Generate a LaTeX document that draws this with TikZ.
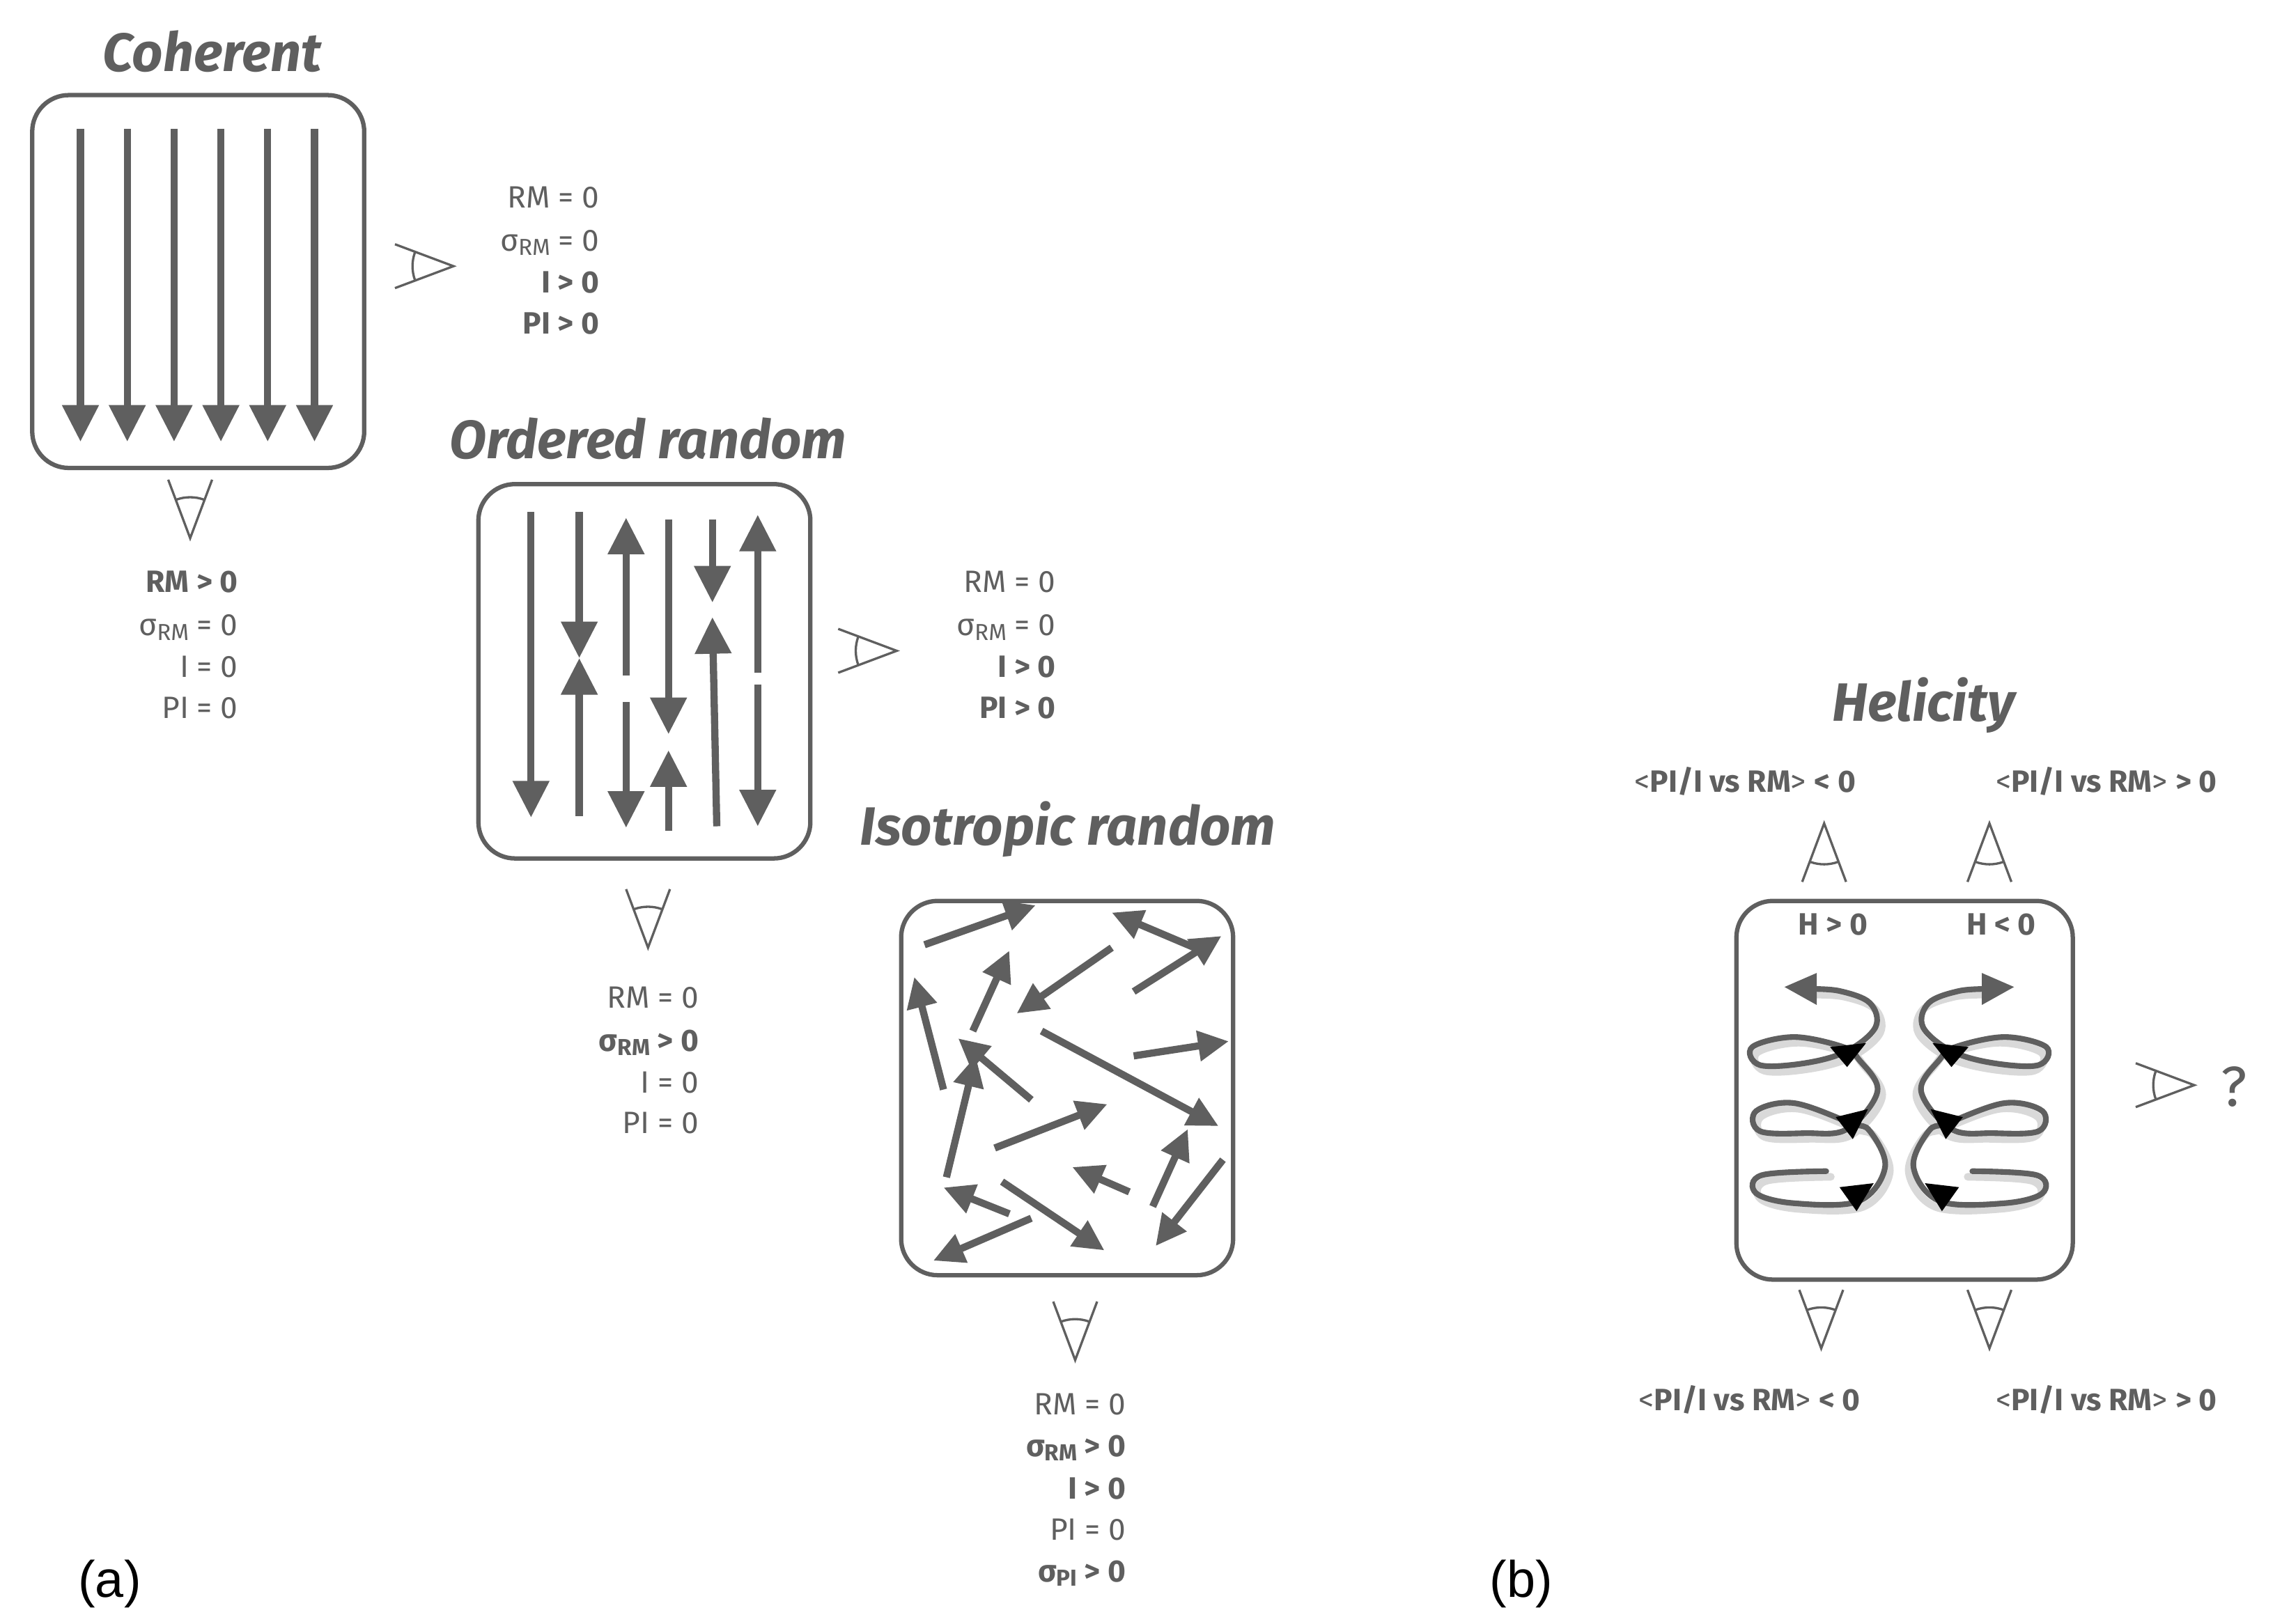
\documentclass[tikz,border=0pt]{standalone}
\usepackage{fontspec}
\setmainfont{Fira Sans}
\newfontfamily\arialf{Liberation Sans}
\usetikzlibrary{arrows.meta}
\definecolor{dg}{HTML}{5F5F5F}
\newcommand{\sig}[1]{σ{\fontsize{9}{10}\selectfont\raisebox{-0.35ex}{#1}}}
\begin{document}
\begin{tikzpicture}[x=0.02cm,y=-0.02cm,
  box/.style={draw=dg,line width=1.7pt,rounded corners=0.5cm},
  fa/.style={draw=dg,line width=2.8pt,-{Triangle[length=0.5cm,width=0.48cm]}},
  ia/.style={draw=dg,line width=2.8pt,-{Triangle[length=0.42cm,width=0.4cm]}},
  txt/.style={text=dg,font=\fontsize{12}{14}\selectfont,anchor=east,inner sep=0pt},
  btxt/.style={txt,font=\fontsize{12}{14}\selectfont\bfseries},
  ttl/.style={text=dg,font=\fontsize{21}{24}\selectfont\bfseries\itshape,inner sep=0pt},
  hl/.style={text=dg,font=\fontsize{12}{14}\selectfont,inner sep=0pt},
  eye/.pic={\draw[dg,line width=0.9pt] (-40,15)--(0,0)--(-40,-15);
            \draw[dg,line width=0.9pt] (160:28) arc[start angle=160,end angle=200,radius=28];},
  hel/.style={draw=dg,line width=2.2pt,line cap=round}]
\useasboundingbox (0,0) rectangle (1560,1110);
% ---------- Coherent
\node[ttl] (t1) at (145,35) {Coherent};
\node[box,minimum width=4.54cm,minimum height=5.1cm] (b1) at (135.5,192.5) {};
\foreach \x [count=\i] in {55,87,119,151,183,215}
  \draw[fa] (\x,88) -- (\x,302);
\pic at (310,182) {eye};
\node[txt] (c1) at (410,135) {RM = 0};
\node[txt] (c2) at (410,166) {\sig{RM} = 0};
\node[btxt] (c3) at (410,193) {I > 0};
\node[btxt] (c4) at (410,221) {PI > 0};
\pic[rotate=-90] at (130,368) {eye};
\node[btxt] (d1) at (163,398) {RM > 0};
\node[txt] (d2) at (163,429) {\sig{RM} = 0};
\node[txt] (d3) at (163,456) {I = 0};
\node[txt] (d4) at (163,484) {PI = 0};
% ---------- Ordered random
\node[ttl] (t2) at (443,300) {Ordered random};
\node[box,minimum width=4.54cm,minimum height=5.12cm] (b2) at (440.5,459) {};
\draw[fa] (363,350) -- (363,559);
\draw[fa] (396,350) -- (396,450);
\draw[fa] (396,558) -- (396,450);
\draw[fa] (428,462) -- (428,354);
\draw[fa] (428,480) -- (428,566);
\draw[fa] (457,355) -- (457,502);
\draw[fa] (457,568) -- (457,513);
\draw[fa] (487,355) -- (487,412);
\draw[fa] (490,565) -- (487,422);
\draw[fa] (518,460) -- (518,352);
\draw[fa] (518,468) -- (518,565);
\pic at (613,445) {eye};
\node[txt] (e1) at (722,398) {RM = 0};
\node[txt] (e2) at (722,429) {\sig{RM} = 0};
\node[btxt] (e3) at (722,456) {I > 0};
\node[btxt] (e4) at (722,484) {PI > 0};
\pic[rotate=-90] at (443,648) {eye};
\node[txt] (f1) at (478,682) {RM = 0};
\node[btxt] (f2) at (478,713) {\sig{RM} > 0};
\node[txt] (f3) at (478,740) {I = 0};
\node[txt] (f4) at (478,768) {PI = 0};
% ---------- Isotropic random
\node[ttl] (t3) at (730,567) {Isotropic random};
\node[box,minimum width=4.54cm,minimum height=5.12cm] (b3) at (729.5,744) {};
\draw[ia] (632,646) -- (708,619);
\draw[ia] (826,652) -- (760,624);
\draw[ia] (775,678) -- (835,640);
\draw[ia] (760,648) -- (695,693);
\draw[ia] (665,705) -- (690,650);
\draw[ia] (645,745) -- (625,668);
\draw[ia] (705,752) -- (655,710);
\draw[ia] (647,805) -- (667,722);
\draw[ia] (712,705) -- (833,770);
\draw[ia] (775,722) -- (840,712);
\draw[ia] (680,785) -- (757,755);
\draw[ia] (788,825) -- (812,772);
\draw[ia] (772,815) -- (733,798);
\draw[ia] (836,793) -- (790,852);
\draw[ia] (685,808) -- (755,855);
\draw[ia] (705,833) -- (638,862);
\draw[ia] (690,830) -- (645,812);
\pic[rotate=-90] at (735,930) {eye};
\node[txt] (g1) at (770,960) {RM = 0};
\node[btxt] (g2) at (770,990) {\sig{RM} > 0};
\node[btxt] (g3) at (770,1018) {I > 0};
\node[txt] (g4) at (770,1046) {PI = 0};
\node[btxt] (g5) at (770,1076) {\sig{PI} > 0};
% ---------- labels
\node[font=\arialf\fontsize{20}{22}\selectfont,inner sep=0pt] (la) at (75,1083) {(a)};
\node[font=\arialf\fontsize{20}{22}\selectfont,inner sep=0pt] (lb) at (1040,1083) {(b)};
% ---------- Helicity
\node[ttl] (t4) at (1315,482) {Helicity};
\node[hl] (h1) at (1193,534) {<\textbf{PI/I vs RM}> \textbf{< 0}};
\node[hl] (h2) at (1440,534) {<\textbf{PI/I vs RM}> \textbf{> 0}};
\node[hl] (h3) at (1196,957) {<\textbf{PI/I vs RM}> \textbf{< 0}};
\node[hl] (h4) at (1440,957) {<\textbf{PI/I vs RM}> \textbf{> 0}};
\pic[rotate=90] at (1247,563) {eye};
\pic[rotate=90] at (1360,563) {eye};
\pic[rotate=-90] at (1245,922) {eye};
\pic[rotate=-90] at (1360,922) {eye};
\pic at (1500,742) {eye};
\node[text=dg,font=\fontsize{22}{24}\selectfont,inner sep=0pt] (q) at (1527,743) {?};
\node[box,minimum width=4.6cm,minimum height=5.18cm] (b4) at (1302,745.5) {};
\node[hl,font=\fontsize{12}{14}\selectfont\bfseries] (hp) at (1253,632) {H > 0};
\node[hl,font=\fontsize{12}{14}\selectfont\bfseries] (hn) at (1368,632) {H < 0};
\begin{scope}[shift={(1148.6,527)},x=0.005186cm,y=-0.00548cm]
 \foreach \m/\s in {0/1,1155/-1}{
 \begin{scope}[shift={(\m,0)},xscale=\s]
  \draw[hel,draw=black!15,line width=3pt,shift={(12,14)}] plot[smooth,tension=0.6] coordinates {(385,1000) (215,1010) (200,1055) (300,1080) (470,1075) (540,990) (500,900) (450,880) (300,830) (200,850) (210,900) (330,905) (440,895) (520,800) (470,720) (430,690) (300,665) (190,690) (210,735) (330,730) (440,700) (515,640) (500,580) (420,550) (340,545)};
  \draw[hel] plot[smooth,tension=0.6] coordinates {(385,1000) (215,1010) (200,1055) (300,1080) (470,1075) (540,990) (500,900) (450,880) (300,830) (200,850) (210,900) (330,905) (440,895) (520,800) (470,720) (430,690) (300,665) (190,690) (210,735) (330,730) (440,700) (515,640) (500,580) (420,550) (340,545)};
  \fill[dg] (275,540) -- (360,505) -- (360,585) -- cycle;
  \fill[black] (395,690) -- (490,680) -- (440,740) -- cycle;
  \fill[black] (410,865) -- (495,845) -- (455,920) -- cycle;
  \fill[black] (420,1040) -- (510,1030) -- (465,1100) -- cycle;
 \end{scope}}
\end{scope}
\end{tikzpicture}
\end{document}
